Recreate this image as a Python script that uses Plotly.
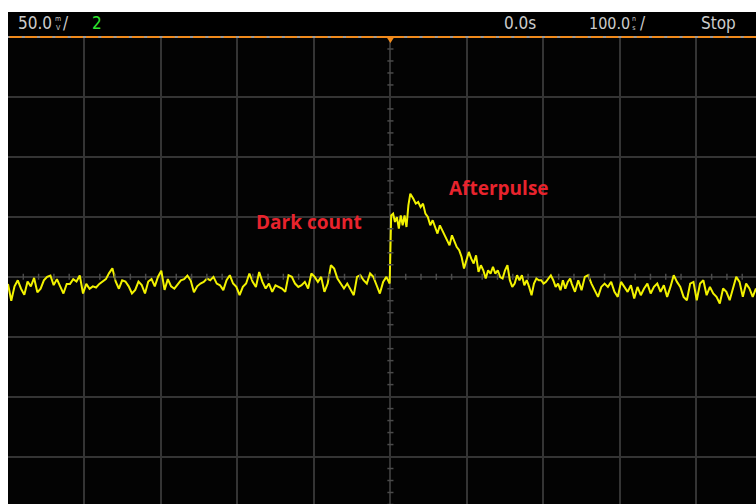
import numpy as np
import plotly.graph_objects as go

# ---- acquired waveform (channel 2, mV), grouped by record section ----
# pre-trigger baseline, -500 ns .. -1 ns
PRE_SPAN = (-500.0, -1.0)
PRE_MV = [
    -6, -20, -8, -3, -10, -15, -4, -8, -1, -13, -10, -3, 0, 1, -7, -2, -8, -14, -6, -6,
    -2, -4, 1, -14, -6, -10, -8, -9, -6, -4, -2, 3, 7, -4, -10, -3, -4, -8, -14, -11,
    -4, -7, -14, -4, -2, -8, 0, 5, -11, -2, -8, -10, -6, -3, -2, 1, -3, -13, -8,
    -5.7, -4.3, -1.5, -2.9, -0.1, -5.7, -7.1, -11.2, -2.9, 1.3, -5.7, -8.5, -15.4, -8.5,
    -5.7, 2.7, -4.3, -8.5, 4.0, -4.3, -9.8, -5.7, -12.6, -7.1, -8.5, -9.8, -12.6, 1.3,
    -0.1, -5.7, -8.5, -7.1, -4.3, -9.8, 2.7, -0.1, -4.3, -0.1, -12.6, -5.7, 9.6, 6.8,
    -1.5, -5.7, -9.8, -5.7, -11.2, -15.4, -0.1, 1.3, -2.9, -5.7, 2.7, -0.1, -7.1, -14,
    -4.3, -0.1, -5.7,
]
# dark-count pulse: rise, plateau and afterpulse peak, 1 ns .. 26 ns
PULSE_SPAN = (1.0, 26.0)
PULSE_MV = [51.2, 52.6, 45.7, 49.8, 40.1, 51.2, 42.9, 51.2, 41.5, 59.6, 69.3]
# afterpulse decay back to baseline, 30 ns .. 235 ns
DECAY_SPAN = (30.0, 235.0)
DECAY_MV = [
    65.1, 61.0, 62.3,
    58.2, 61.0, 52.6, 49.8, 42.9, 47.1, 41.5, 36.0, 42.9, 38.7, 34.6, 30.4, 26.2, 34.6,
    29.0, 24.8, 22.1, 16.5, 6.8, 13.7, 20.7, 15.1, 11.0, 17.9, 4.0, 9.6, 5.4, -1.5, 5.4,
    2.6, 8.2, 2.6, 5.4, -0.2, -1.5, 5.4, 9.6, -2.9, -8.5, -5.7, 1.2, -2.9, 1.2, -7.1,
    -2.9, -8.5, -15.4, -5.7, -1.5, -2.9, -2.9, -5.7, -4.3, -1.5, 1.2, -2.9, -8.5, -5.7,
    -11.3, -2.9, -9.9, -4.3, -1.5,
]
# trailing baseline, 237 ns .. 478 ns
TAIL_SPAN = (237.0, 478.0)
TAIL_MV = [
    -5.7, -12.6, -2.9, -11.2, -0.1, 1.3, -5.7, -11.2, -16.8, -8.5, -5.7, -8.5, -4.3,
    -12.6, -16.8, -4.3, -8.5, -12.6, -7.1, -18.2, -8.5, -15.4, -9.8, -5.7, -14, -8.5,
    -5.7, -12.6, -7.1, -16.8, -8.5, 1.3, -4.3, -8.5, -16.8, -19.6, -5.7, -4.3, -19.6,
    -5.7, -2.9, -15.4, -8.5, -14, -16.8, -22.3, -9.8, -12.6, -19.6, -9.8, -0.1, -4.3,
    -16.8, -5.7, -9.8, -16.8, -9.8,
]

SECTIONS = [(PRE_SPAN, PRE_MV), (PULSE_SPAN, PULSE_MV),
            (DECAY_SPAN, DECAY_MV), (TAIL_SPAN, TAIL_MV)]

# scope settings shown in the status bar
SCALE_V = "50.0"
UNIT_V = ("m", "V")
CHANNEL = "2"
DELAY = "0.0s"
SCALE_T = "100.0"
UNIT_T = ("n", "s")
RUN_STATE = "Stop"

LABEL_DARK = "Dark count"
LABEL_AFTER = "Afterpulse"

# ---- build the sample time base for each section ----
t_all, v_all = [], []
for (t0, t1), vals in SECTIONS:
    t_all.extend(np.linspace(t0, t1, len(vals)).tolist())
    v_all.extend(vals)

# ---- page geometry ----
W, H = 756, 504
L, T = 8, 37
PW, PH = W - L, H - T
X_RANGE = [-500, 478]
Y_RANGE = [-189.6, 200]


def pxx(p):
    return (p - L) / PW


def pyy(p):
    return (H - p) / PH


GRID = "#343434"
TICK = "#4a4a4a"
ORANGE = "#f08a1c"
GRAY_TXT = "#cccccc"
SCOPE_FONT = "DejaVu Sans Condensed, Liberation Sans Narrow, Roboto, sans-serif"
LABEL_FONT = "Open Sans, Lato, sans-serif"

fig = go.Figure()
fig.add_trace(go.Scatter(
    x=t_all, y=v_all, mode="lines",
    line=dict(color="#f2f200", width=2),
    hoverinfo="skip", showlegend=False,
))

shapes = []
# minor ticks on the centre cross
for k in range(-25, 25):
    t = k * 20
    if k % 5 == 0:
        continue
    shapes.append(dict(type="line", xref="x", yref="y", x0=t, x1=t, y0=-2.5, y1=2.5,
                       line=dict(color=TICK, width=1.5)))
for k in range(-19, 20):
    v = k * 10
    if k % 5 == 0:
        continue
    shapes.append(dict(type="line", xref="x", yref="y", x0=-4, x1=4, y0=v, y1=v,
                       line=dict(color=TICK, width=1.5)))

# status bar
shapes.append(dict(type="rect", xref="paper", yref="paper", x0=0, x1=1,
                   y0=pyy(36), y1=pyy(12), fillcolor="black", line=dict(width=0),
                   layer="above"))
shapes.append(dict(type="line", xref="paper", yref="paper", x0=0, x1=1,
                   y0=pyy(37), y1=pyy(37), line=dict(color=ORANGE, width=2),
                   layer="above"))
for k in range(-25, 25):
    t = k * 20
    shapes.append(dict(type="line", xref="x", yref="paper", x0=t - 2, x1=t + 2,
                       y0=pyy(37), y1=pyy(37), line=dict(color="#9a9a9a", width=2),
                       layer="above"))
# trigger position marker
shapes.append(dict(type="path", xref="x", yref="paper",
                   path=f"M -6,{pyy(36)} L 6,{pyy(36)} L 0,{pyy(43)} Z",
                   fillcolor=ORANGE, line=dict(width=0), layer="above"))

ann = []


def txt(text, x, y, size, color=GRAY_TXT, anchor="left", font=SCOPE_FONT):
    ann.append(dict(text=text, xref="paper", yref="paper", x=pxx(x), y=pyy(y),
                    xanchor=anchor, yanchor="middle", showarrow=False,
                    font=dict(family=font, size=size, color=color)))


def stacked(pair, x, y):
    # prefix letter over unit letter, as the scope draws it
    txt(f"{pair[0]}<br>{pair[1]}", x, y, 7)


txt(SCALE_V, 16, 23, 17)
stacked(UNIT_V, 53, 23)
txt("/", 61, 23, 17)
txt(CHANNEL, 90, 23, 17, color="#2ee62e")
txt(DELAY, 502, 23, 17)
txt(SCALE_T, 587, 23, 16)
stacked(UNIT_T, 630, 23)
txt("/", 638, 23, 17)
txt(RUN_STATE, 699, 23, 17)

ann.append(dict(text=f"<b>{LABEL_DARK}</b>", x=-106, y=45.4, xref="x", yref="y",
                showarrow=False, font=dict(family=LABEL_FONT, size=19, color="#e8232d")))
ann.append(dict(text=f"<b>{LABEL_AFTER}</b>", x=142, y=73.8, xref="x", yref="y",
                showarrow=False, font=dict(family=LABEL_FONT, size=19, color="#e8232d")))

axis_common = dict(showticklabels=False, ticks="", zeroline=False, showline=False,
                   showgrid=True, gridcolor=GRID, gridwidth=1.5, fixedrange=True)
fig.update_layout(
    width=W, height=H,
    margin=dict(l=L, r=0, t=T, b=0, pad=0),
    paper_bgcolor="white", plot_bgcolor="#030303",
    xaxis=dict(range=X_RANGE, tick0=0, dtick=100, **axis_common),
    yaxis=dict(range=Y_RANGE, tick0=0, dtick=50, **axis_common),
    shapes=shapes, annotations=ann, showlegend=False,
)

fig.write_html("out.html")
